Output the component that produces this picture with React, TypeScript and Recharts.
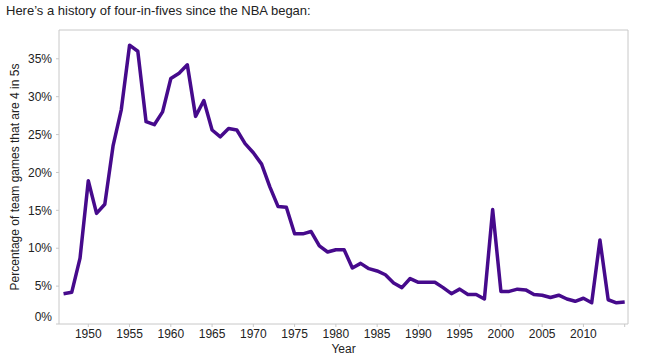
import { LineChart, Line, XAxis, YAxis, ReferenceLine } from "recharts"

// Share of team games that are the 4th game in 5 nights, per season
const years = [
  1947, 1948, 1949, 1950, 1951, 1952, 1953, 1954, 1955, 1956,
  1957, 1958, 1959, 1960, 1961, 1962, 1963, 1964, 1965, 1966,
  1967, 1968, 1969, 1970, 1971, 1972, 1973, 1974, 1975, 1976,
  1977, 1978, 1979, 1980, 1981, 1982, 1983, 1984, 1985, 1986,
  1987, 1988, 1989, 1990, 1991, 1992, 1993, 1994, 1995, 1996,
  1997, 1998, 1999, 2000, 2001, 2002, 2003, 2004, 2005, 2006,
  2007, 2008, 2009, 2010, 2011, 2012, 2013, 2014, 2015,
]
const pct = [
  4.0, 4.2, 8.7, 18.9, 14.6, 15.8, 23.5, 28.3, 36.8, 36.0,
  26.7, 26.3, 28.0, 32.4, 33.1, 34.2, 27.4, 29.5, 25.6, 24.7,
  25.8, 25.6, 23.8, 22.6, 21.1, 18.1, 15.5, 15.4, 11.9, 11.9,
  12.2, 10.3, 9.5, 9.8, 9.8, 7.4, 8.0, 7.3, 7.0, 6.5,
  5.4, 4.8, 6.0, 5.5, 5.5, 5.5, 4.8, 4.0, 4.6, 3.9,
  3.9, 3.3, 15.1, 4.3, 4.3, 4.6, 4.5, 3.9, 3.8, 3.5,
  3.8, 3.3, 3.0, 3.4, 2.8, 11.1, 3.2, 2.8, 2.9,
]
const xTicks = [1950, 1955, 1960, 1965, 1970, 1975, 1980, 1985, 1990, 1995, 2000, 2005, 2010, 2015]
const yTicks = [0, 5, 10, 15, 20, 25, 30, 35]

const data = years.map((year, i) => ({ year, pct: pct[i] }))

const X_MIN = 1946.45
const X_MAX = 2015.4
const Y_MAX = 38.8

const FONT = '"Liberation Sans", Arial, sans-serif'
const FRAME = "#c8c8c8"
const TEXT = "#222"

// Y tick; the 0% label sits a bit higher, like the original
function YTick(props: any) {
  const { x, y, payload } = props
  const shift = payload.value === 0 ? -7 : 0
  return (
    <text x={x} y={y + shift} dy="0.35em" textAnchor="end" fill={TEXT} fontSize={12} fontFamily={FONT}>
      {payload.value}%
    </text>
  )
}

function YLabel(props: any) {
  const vb = props.viewBox || {}
  const cy = vb.y + vb.height / 2
  return (
    <text
      x={15}
      y={cy}
      transform={`rotate(-90, 15, ${cy})`}
      textAnchor="middle"
      dominantBaseline="central"
      fill={TEXT}
      fontSize={12}
      fontFamily={FONT}
    >
      Percentage of team games that are 4 in 5s
    </text>
  )
}

export default function App() {
  return (
    <div style={{ position: "absolute", left: 0, top: 0, width: 645, height: 355, background: "#fff" }}>
      <div
        style={{
          position: "absolute",
          left: 6,
          top: 3,
          fontFamily: FONT,
          fontSize: 13,
          color: TEXT,
          whiteSpace: "nowrap",
        }}
      >
        Here’s a history of four-in-fives since the NBA began:
      </div>
      <LineChart width={645} height={355} data={data} margin={{ top: 30, right: 17, left: 0, bottom: 0 }}>
        <XAxis
          dataKey="year"
          type="number"
          domain={[X_MIN, X_MAX]}
          ticks={xTicks}
          allowDataOverflow
          height={31}
          tickSize={3}
          tickMargin={2}
          stroke={FRAME}
          tick={{ fill: TEXT, fontSize: 12, fontFamily: FONT }}
          tickFormatter={(v) => (v === 2015 ? "" : String(v))}
          label={{ value: "Year", position: "insideBottom", offset: 2, fill: TEXT, fontSize: 12, fontFamily: FONT }}
        />
        <YAxis
          type="number"
          domain={[0, Y_MAX]}
          ticks={yTicks}
          allowDataOverflow
          width={59}
          tickSize={3}
          tickMargin={4}
          stroke={FRAME}
          tick={<YTick />}
          label={(p: any) => <YLabel {...p} />}
        />
        <ReferenceLine y={Y_MAX} stroke={FRAME} />
        <ReferenceLine x={X_MAX} stroke={FRAME} />
        <Line
          type="linear"
          dataKey="pct"
          stroke="#460a8c"
          strokeWidth={3.5}
          strokeLinejoin="round"
          dot={false}
          isAnimationActive={false}
        />
      </LineChart>
    </div>
  )
}
